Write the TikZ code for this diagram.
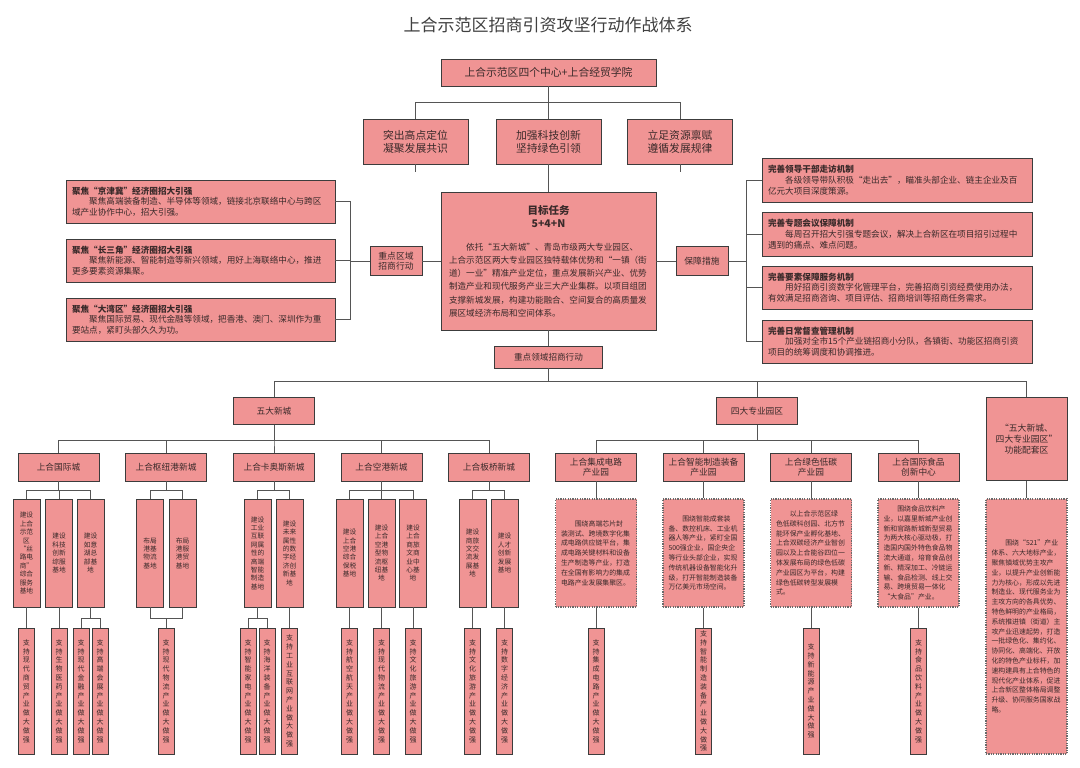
\documentclass[tikz,border=0pt]{standalone}
\usepackage{fontspec}
\setmainfont{Noto Sans CJK SC}
\usepackage{tikz}
\usetikzlibrary{positioning}
\definecolor{colorRelleno}{HTML}{F09494}
\definecolor{colorBorde}{HTML}{3C3C3C}
\definecolor{colorLinea}{HTML}{555555}
\definecolor{colorTexto}{HTML}{3A2A2A}
\definecolor{colorPunteado}{HTML}{6A6A6A}
\newcommand{\columna}[1]{\vbox{\baselineskip=8.8pt\columnaLoop#1\relax}}
\def\columnaLoop#1{\ifx\relax#1\else\hbox to 7pt{\hss#1\hss}\expandafter\columnaLoop\fi}

\begin{document}
\begin{tikzpicture}[x=1pt, y=-1pt,
        blk/.style={draw=colorBorde, fill=colorRelleno, line width=0.9pt, inner sep=0pt,
            align=center, text=colorTexto},
        gbox/.style={blk, minimum width=105pt, minimum height=45pt, font=\fontsize{10.8}{13}\selectfont},
        side/.style={blk, minimum width=52pt, minimum height=29pt, font=\fontsize{8.8}{10.5}\selectfont},
        txt/.style={blk, align=left, inner xsep=6pt, text width=257pt, minimum height=43pt,
            font=\fontsize{8.6}{10.7}\selectfont},
        head/.style={blk, minimum width=81pt, minimum height=28pt, font=\fontsize{8.7}{10.3}\selectfont},
        col/.style={blk, minimum width=27pt, minimum height=108pt, font=\fontsize{6.7}{8.4}\selectfont},
        strip/.style={blk, minimum width=16pt, minimum height=126pt, font=\fontsize{7}{8.8}\selectfont},
        dbox/.style={fill=colorRelleno, draw=colorPunteado, dash pattern=on 1.2pt off 1.2pt,
            line width=1.1pt, text=colorTexto, align=left, text width=70pt, inner xsep=5.5pt,
            minimum height=108pt, font=\fontsize{6.9}{9.8}\selectfont},
        rel/.style={draw=colorLinea, line width=0.8pt}
    ]
        \fill[white] (0,0) rectangle (1080,768);
        \useasboundingbox (0,0) rectangle (1080,768);

        \node[font=\fontsize{17}{20}\selectfont, text=black!75] (titulo) at (548,25) {上合示范区招商引资攻坚行动作战体系};

        \node[blk, minimum width=215pt, minimum height=27pt, font=\fontsize{10.8}{13}\selectfont] (hq) at (548.5,72.5) {上合示范区四个中心+上合经贸学院};
        \node[gbox] (g1) at (415.5,141.5) {突出高点定位\\凝聚发展共识};
        \node[gbox] (g2) at (548.5,141.5) {加强科技创新\\坚持绿色引领};
        \node[gbox] (g3) at (680,141.5) {立足资源禀赋\\遵循发展规律};
        \coordinate (s1) at (415.5,172);
        \coordinate (s3) at (680,172);

        \node[blk, align=left, inner xsep=8pt, text width=199pt, minimum height=138pt,
            font=\fontsize{8.6}{13.2}\selectfont] (goal) at (548.5,261)
            {{\centering\bfseries\fontsize{10.5}{13}\selectfont 目标任务\\5+4+N\par}\vspace{10pt}\hspace*{2em}依托“五大新城”、青岛市级两大专业园区、\\上合示范区两大专业园区独特载体优势和“一镇（街\\道）一业”精准产业定位，重点发展新兴产业、优势\\制造产业和现代服务产业三大产业集群。以项目组团\\支撑新城发展，构建功能融合、空间复合的高质量发\\展区域经济布局和空间体系。};

        \node[side] (reg) at (396,261) {重点区域\\招商行动};
        \node[side] (safe) at (702,261) {保障措施};

        \node[txt] (z1) at (200.5,201.5) {\textbf{聚焦“京津冀”经济圈招大引强}\\\hspace*{2em}聚焦高端装备制造、半导体等领域，链接北京联络中心与跨区\\域产业协作中心，招大引强。};
        \node[txt] (z2) at (200.5,260.5) {\textbf{聚焦“长三角”经济圈招大引强}\\\hspace*{2em}聚焦新能源、智能制造等新兴领域，用好上海联络中心，推进\\更多要素资源集聚。};
        \node[txt] (z3) at (200.5,319.5) {\textbf{聚焦“大湾区”经济圈招大引强}\\\hspace*{2em}聚焦国际贸易、现代金融等领域，把香港、澳门、深圳作为重\\要站点，紧盯头部久久为功。};

        \node[txt, text width=258pt, minimum height=44pt] (r1) at (897,180) {\textbf{完善领导干部走访机制}\\\hspace*{2em}各级领导带队积极“走出去”，瞄准头部企业、链主企业及百\\亿元大项目深度策源。};
        \node[txt, text width=258pt, minimum height=44pt] (r2) at (897,234) {\textbf{完善专题会议保障机制}\\\hspace*{2em}每周召开招大引强专题会议，解决上合新区在项目招引过程中\\遇到的痛点、难点问题。};
        \node[txt, text width=258pt] (r3) at (897,287.5) {\textbf{完善要素保障服务机制}\\\hspace*{2em}用好招商引资数字化管理平台，完善招商引资经费使用办法，\\有效满足招商咨询、项目评估、招商培训等招商任务需求。};
        \node[txt, text width=258pt] (r4) at (897,341.5) {\textbf{完善日常督查管理机制}\\\hspace*{2em}加强对全市15个产业链招商小分队，各镇街、功能区招商引资\\项目的统筹调度和协调推进。};

        \node[blk, minimum width=108pt, minimum height=22pt, font=\fontsize{8.6}{10}\selectfont] (key) at (548.5,357) {重点领域招商行动};

        \node[head, minimum height=27pt] (five) at (274,411) {五大新城};
        \node[head, minimum height=27pt] (four) at (757,411) {四大专业园区};
        \node[head, minimum height=83pt, font=\fontsize{8.8}{11}\selectfont] (func) at (1026.5,439) {“五大新城、\\四大专业园区”\\功能配套区};

        \node[head] (c1) at (58.5,467) {上合国际城};
        \node[head] (c2) at (166,467) {上合枢纽港新城};
        \node[head] (c3) at (274,467) {上合卡奥斯新城};
        \node[head] (c4) at (381.5,467) {上合空港新城};
        \node[head] (c5) at (489,467) {上合板桥新城};
        \node[head] (p1) at (596,467) {上合集成电路\\产业园};
        \node[head] (p2) at (703.5,467) {上合智能制造装备\\产业园};
        \node[head] (p3) at (811,467) {上合绿色低碳\\产业园};
        \node[head] (p4) at (918.5,467) {上合国际食品\\创新中心};

        \node[col] (t11) at (26.5,553) {建设\\上合\\示范\\区\\“丝\\路电\\商”\\综合\\服务\\基地};
        \node[col] (t12) at (59,553) {建设\\科技\\创新\\综服\\基地};
        \node[col] (t13) at (90.5,553) {建设\\如意\\湖总\\部基\\地};
        \node[col] (t21) at (150,553) {布局\\港基\\物流\\基地};
        \node[col] (t22) at (182.5,553) {布局\\港服\\港贸\\基地};
        \node[col] (t31) at (257.5,553) {建设\\工业\\互联\\网属\\性的\\高端\\智能\\制造\\基地};
        \node[col] (t32) at (289.5,553) {建设\\未来\\属性\\的数\\字经\\济创\\新基\\地};
        \node[col] (t41) at (349.5,553) {建设\\上合\\空港\\综合\\保税\\基地};
        \node[col] (t42) at (381.5,553) {建设\\上合\\空港\\型物\\流枢\\纽基\\地};
        \node[col] (t43) at (413,553) {建设\\上合\\商旅\\文商\\业中\\心基\\地};
        \node[col] (t51) at (472.5,553) {建设\\商旅\\文交\\流发\\展基\\地};
        \node[col] (t52) at (504.5,553) {建设\\人才\\创新\\发展\\基地};

        \node[dbox] (d1) at (596,553) {\hspace*{2em}围绕高端芯片封\\装测试、跨境数字化集\\成电路供应链平台，集\\成电路关键材料和设备\\生产制造等产业，打造\\在全国有影响力的集成\\电路产业发展集聚区。};
        \node[dbox] (d2) at (703.5,553) {\hspace*{2em}围绕智能成套装\\备、数控机床、工业机\\器人等产业，紧盯全国\\500强企业，国企央企\\等行业头部企业，实现\\传统机器设备智能化升\\级，打开智能制造装备\\万亿美元市场空间。};
        \node[dbox] (d3) at (811,553) {\hspace*{2em}以上合示范区绿\\色低碳科创园、北方节\\能环保产业孵化基地、\\上合双碳经济产业智创\\园以及上合能谷四位一\\体发展布局的绿色低碳\\产业园区为平台，构建\\绿色低碳转型发展模\\式。};
        \node[dbox] (d4) at (918.5,553) {\hspace*{2em}围绕食品饮料产\\业，以嘉里新城产业创\\新和官路新城新型贸易\\为两大核心驱动极，打\\造国内国外特色食品物\\流大通道，培育食品创\\新、精深加工、冷链运\\输、食品检测、线上交\\易、跨境贸易一体化\\“大食品”产业。};
        \node[dbox, minimum height=255pt] (d5) at (1026.5,626.5) {\hspace*{2em}围绕“521”产业\\体系、六大地标产业，\\聚焦镇域优势主攻产\\业，以提升产业创新能\\力为核心，形成以先进\\制造业、现代服务业为\\主攻方向的各具优势、\\特色鲜明的产业格局，\\系统推进镇（街道）主\\攻产业迅速起势，打造\\一批绿色化、集约化、\\协同化、高端化、开放\\化的特色产业标杆，加\\速构建具有上合特色的\\现代化产业体系，促进\\上合新区整体格局调整\\升级、协同服务国家战\\略。};

        \node[strip] (b11) at (26.5,691) {\columna{支持现代商贸产业做大做强}};
        \node[strip] (b12) at (59,691) {\columna{支持生物医药产业做大做强}};
        \node[strip] (b13) at (81,691) {\columna{支持现代金融产业做大做强}};
        \node[strip] (b14) at (100,691) {\columna{支持高端会展产业做大做强}};
        \node[strip] (b21) at (166,691) {\columna{支持现代物流产业做大做强}};
        \node[strip] (b31) at (248,691) {\columna{支持智能家电产业做大做强}};
        \node[strip] (b32) at (267,691) {\columna{支持海洋装备产业做大做强}};
        \node[strip] (b33) at (289.5,691) {\columna{支持工业互联网产业做大做强}};
        \node[strip] (b41) at (349.5,691) {\columna{支持航空航天产业做大做强}};
        \node[strip] (b42) at (381.5,691) {\columna{支持现代物流产业做大做强}};
        \node[strip] (b43) at (413,691) {\columna{支持文化旅游产业做大做强}};
        \node[strip] (b51) at (472.5,691) {\columna{支持文化旅游产业做大做强}};
        \node[strip] (b52) at (504.5,691) {\columna{支持数字经济产业做大做强}};
        \node[strip] (e1) at (596,691) {\columna{支持集成电路产业做大做强}};
        \node[strip] (e2) at (703.5,691) {\columna{支持智能制造装备产业做大做强}};
        \node[strip] (e3) at (811,691) {\columna{支持新能源产业做大做强}};
        \node[strip] (e4) at (918.5,691) {\columna{支持食品饮料产业做大做强}};

        \draw[rel] (hq.south) -- ++(0,16) -| (g1.north);
        \draw[rel] (hq.south) -- ++(0,16) -| (g3.north);
        \draw[rel] (hq) -- (g2);
        \draw[rel] (g1) -- (s1); \draw[rel] (g3) -- (s3);
        \draw[rel] (g2) -- (goal);
        \draw[rel] (goal) -- (reg); \draw[rel] (goal) -- (safe); \draw[rel] (goal) -- (key);
        \draw[rel] (reg.west) -- ++(-19,0) |- (z1.east);
        \draw[rel] (reg.west) -- ++(-19,0) |- (z2.east);
        \draw[rel] (reg.west) -- ++(-19,0) |- (z3.east);
        \draw[rel] (safe.east) -- ++(18,0) |- (r1.west);
        \draw[rel] (safe.east) -- ++(18,0) |- (r2.west);
        \draw[rel] (safe.east) -- ++(18,0) |- (r3.west);
        \draw[rel] (safe.east) -- ++(18,0) |- (r4.west);

        \draw[rel] (key.south) -- ++(0,13) -| (five.north);
        \draw[rel] (key.south) -- ++(0,13) -| (four.north);
        \draw[rel] (key.south) -- ++(0,13) -| (func.north);
        \draw[rel] (five.south) -- ++(0,15) -| (c1.north);
        \draw[rel] (five.south) -- ++(0,15) -| (c2.north);
        \draw[rel] (five.south) -- ++(0,15) -| (c3.north);
        \draw[rel] (five.south) -- ++(0,15) -| (c4.north);
        \draw[rel] (five.south) -- ++(0,15) -| (c5.north);
        \draw[rel] (four.south) -- ++(0,15) -| (p1.north);
        \draw[rel] (four.south) -- ++(0,15) -| (p2.north);
        \draw[rel] (four.south) -- ++(0,15) -| (p3.north);
        \draw[rel] (four.south) -- ++(0,15) -| (p4.north);

        \draw[rel] (c1.south) -- ++(0,9) -| (t11.north);
        \draw[rel] (c1.south) -- ++(0,9) -| (t12.north);
        \draw[rel] (c1.south) -- ++(0,9) -| (t13.north);
        \draw[rel] (c2.south) -- ++(0,9) -| (t21.north);
        \draw[rel] (c2.south) -- ++(0,9) -| (t22.north);
        \draw[rel] (c3.south) -- ++(0,9) -| (t31.north);
        \draw[rel] (c3.south) -- ++(0,9) -| (t32.north);
        \draw[rel] (c4.south) -- ++(0,9) -| (t41.north);
        \draw[rel] (c4.south) -- ++(0,9) -| (t42.north);
        \draw[rel] (c4.south) -- ++(0,9) -| (t43.north);
        \draw[rel] (c5.south) -- ++(0,9) -| (t51.north);
        \draw[rel] (c5.south) -- ++(0,9) -| (t52.north);
        \draw[rel] (p1) -- (d1); \draw[rel] (p2) -- (d2); \draw[rel] (p3) -- (d3); \draw[rel] (p4) -- (d4);
        \draw[rel] (func) -- (d5);

        \draw[rel] (t11) -- (b11); \draw[rel] (t12) -- (b12);
        \draw[rel] (t13.south) -- ++(0,11) -| (b13.north);
        \draw[rel] (t13.south) -- ++(0,11) -| (b14.north);
        \draw[rel] (t21.south) -- ++(0,11) -| (b21.north);
        \draw[rel] (t22.south) -- ++(0,11) -| (b21.north);
        \draw[rel] (t31.south) -- ++(0,11) -| (b31.north);
        \draw[rel] (t31.south) -- ++(0,11) -| (b32.north);
        \draw[rel] (t32) -- (b33);
        \draw[rel] (t41) -- (b41); \draw[rel] (t42) -- (b42); \draw[rel] (t43) -- (b43);
        \draw[rel] (t51) -- (b51); \draw[rel] (t52) -- (b52);
        \draw[rel] (d1) -- (e1); \draw[rel] (d2) -- (e2); \draw[rel] (d3) -- (e3); \draw[rel] (d4) -- (e4);
    \end{tikzpicture}
\end{document}
